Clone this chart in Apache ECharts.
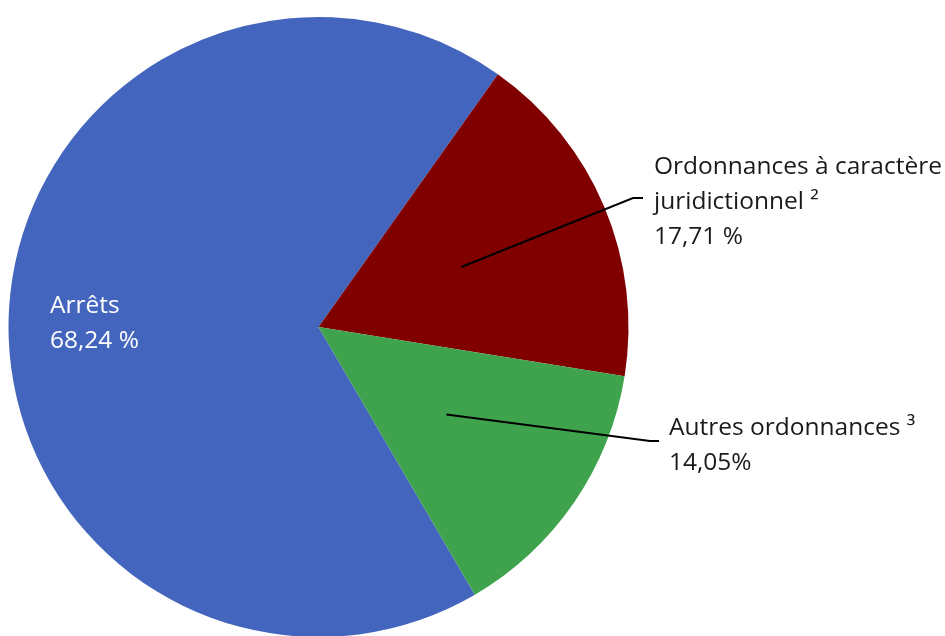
<!DOCTYPE html>
<html>
<head>
<meta charset="utf-8">
<script src="https://cdn.jsdelivr.net/npm/echarts@6/dist/echarts.min.js"></script>
<style>
  html, body { margin: 0; padding: 0; background: #fff; }
  #chart { width: 945px; height: 636px; }
</style>
</head>
<body>
<div id="chart"></div>
<script>
// catégories et parts
var categories = ['Arrêts', 'Ordonnances à caractère\njuridictionnel ²', 'Autres ordonnances ³'];
var shares = [68.24, 17.71, 14.05];
var shareLabels = ['68,24 %', '17,71 %', '14,05%'];
var colors = ['#4465BE', '#800000', '#3FA34D'];

// géométrie du camembert et des étiquettes
var pieCenter = [318.5, 327];
var pieRadius = 310;
var pieStart = 300.3;
var labelBoxes = [[50, 289], [654, 150], [669, 411]];
// coude et extrémité de chaque ligne de rappel (null = pas de ligne)
var leaderBends = [null, [[633, 198], [643, 198]], [[650, 441], [659, 441]]];

var chart = echarts.init(document.getElementById('chart'));

var seriesData = categories.map(function (name, i) {
  return {
    name: name,
    value: shares[i],
    itemStyle: { color: colors[i] },
    label: { color: i === 0 ? '#ffffff' : '#1a1a1a' }
  };
});

// lignes de rappel : partent du milieu de chaque part, à mi-rayon
var total = shares.reduce(function (a, b) { return a + b; }, 0);
var leaderLines = [];
var cum = 0;
shares.forEach(function (v, i) {
  var a0 = pieStart - 360 * cum / total;
  var a1 = a0 - 360 * v / total;
  cum += v;
  if (!leaderBends[i]) return;
  var mid = (a0 + a1) / 2 * Math.PI / 180;
  var p0 = [pieCenter[0] + pieRadius / 2 * Math.cos(mid), pieCenter[1] - pieRadius / 2 * Math.sin(mid)];
  leaderLines.push({
    type: 'polyline',
    z: 100,
    silent: true,
    shape: { points: [p0].concat(leaderBends[i]) },
    style: { stroke: '#000', lineWidth: 2, fill: null }
  });
});

var option = {
  animation: false,
  graphic: leaderLines,
  series: [
    {
      type: 'pie',
      center: pieCenter,
      radius: pieRadius,
      startAngle: pieStart,
      clockwise: true,
      data: seriesData,
      label: {
        show: true,
        position: 'inside',
        fontFamily: 'Open Sans',
        fontSize: 24.5,
        lineHeight: 35,
        align: 'left',
        overflow: 'none',
        formatter: function (p) {
          return p.name + '\n' + shareLabels[p.dataIndex];
        }
      },
      labelLine: { show: false },
      labelLayout: function (params) {
        var i = params.dataIndex;
        return {
          x: labelBoxes[i][0],
          y: labelBoxes[i][1],
          align: 'left',
          verticalAlign: 'top'
        };
      }
    }
  ]
};

chart.setOption(option);
</script>
</body>
</html>
